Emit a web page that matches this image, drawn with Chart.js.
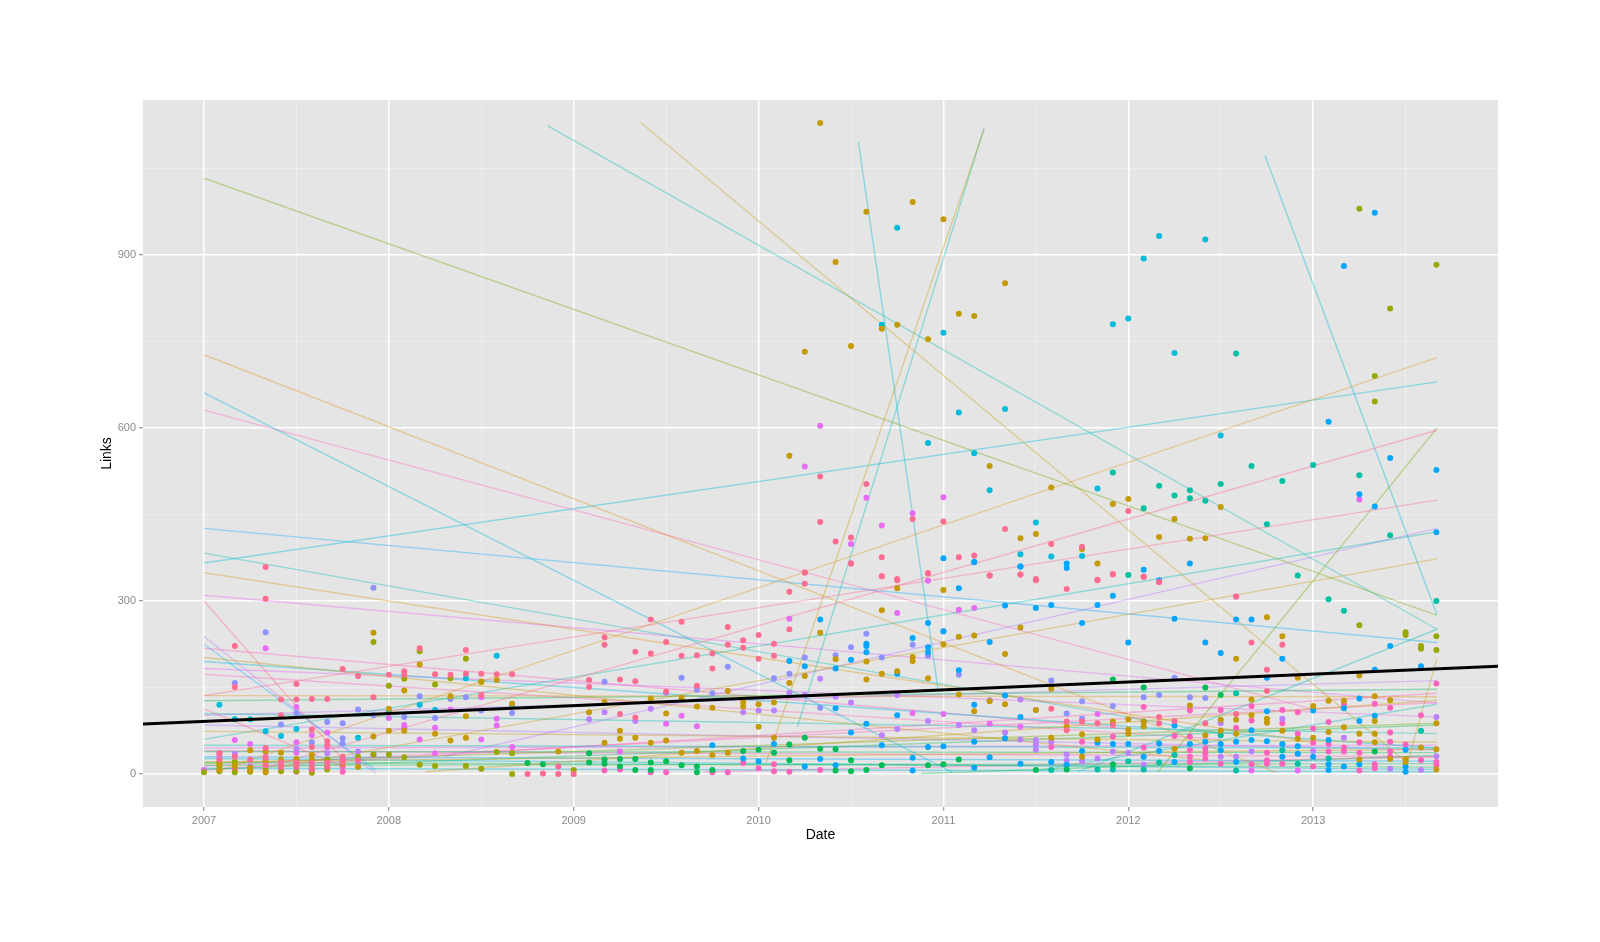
<!DOCTYPE html>
<html>
<head>
<meta charset="utf-8">
<title>Links by date</title>
<script src="https://cdn.jsdelivr.net/npm/chart.js@4/dist/chart.umd.min.js"></script>
<style>
  body { margin: 0; background: #fff; }
  canvas { display: block; }
</style>
</head>
<body>
<canvas id="links" width="1600" height="942"></canvas>
<script>
// tick values, minor ones have no label
var xTicks = [2007, 2007.5, 2008, 2008.5, 2009, 2009.5, 2010, 2010.5, 2011, 2011.5, 2012, 2012.5, 2013, 2013.5];
var xLabels = [2007, 2008, 2009, 2010, 2011, 2012, 2013];
var yTicks = [0, 150, 300, 450, 600, 750, 900, 1050];
var yLabels = [0, 300, 600, 900];

// points are [months since Jan 2007, links]
var redPoints = [[4,359],[4,304],[2,222],[2,151],[6,156],[5,102],[9,182],[10,170],[12,172],[13,178],[13,172],[14,218],[15,173],[16,172],[17,215],[17,174],[18,174],[19,173],[20,173],[11,133],[18,137],[7,130],[8,130],[6,129],[5,129],[4,45],[7,47],[7,77],[8,57],[8,50],[21,0],[22,1],[23,0],[23,13],[24,0],
  [1,36],[1,25],[2,30],[3,25],[4,28],[4,15],[5,20],[5,12],[6,20],[6,12],[7,20],[7,8],[8,20],[8,12],[9,30],[9,20],[10,24],
  [26,237],[26,224],[25,163],[25,151],[27,164],[28,212],[29,268],[29,209],[28,161],[30,229],[31,264],[31,205],[32,206],[33,209],[33,183],[34,255],[34,224],[35,232],[35,219],[36,241],[36,200],[37,226],[37,205],[39,349],[39,330],[38,316],[38,251],[42,365],[44,343],[45,336],[47,348],[51,344],[53,346],[30,143],[32,153],[27,104],[28,98],
  [54,336],[58,336],[59,347],[61,342],[56,321],[62,333],[67,308],[68,228],[70,224],[69,181],[69,144],[55,113],[40,516],[43,503],[40,437],[41,403],[42,410],[46,442],[48,438],[52,425],[55,399],[57,394],[42,365],[44,376],[49,376],[50,379],[39,350],[44,343],[45,338],[47,348],[51,344],[53,346],[54,338],[60,456],[58,337],[59,346],[61,342],[62,333],
  [56,91],[56,76],[57,91],[58,88],[59,85],[62,99],[62,88],[63,92],[65,88],[67,104]];
var amberPoints = [[11,245],[14,190],[12,113],[13,145],[16,135],[17,100],[18,160],[19,163],[20,122],[11,65],[12,75],[13,75],[15,70],[16,58],[17,63],[23,39],[3,41],[4,39],[5,37],[6,26],[7,33],[1,7],[3,6],[4,3],
  [1,18],[2,14],[3,11],[4,22],[5,25],[6,19],[7,25],[7,8],[8,12],[9,18],[10,12],
  [48,319],[45,322],[44,284],[49,238],[50,240],[53,254],[52,208],[46,203],[46,196],[43,164],[44,174],[45,178],[39,170],[38,158],[35,125],[35,117],[36,121],[37,124],[32,117],[33,115],[36,82],[37,63],[30,105],[27,75],[27,61],[28,63],[29,54],[30,58],[26,54],[26,125],[31,37],[32,40],[33,33],[34,37],[25,107],[50,109],[51,126],[52,121],[47,166],[41,199],[43,195],[48,225],[40,245],[34,144],[31,132],[29,131],[49,138],
  [40,1129],[43,975],[46,992],[48,962],[41,888],[52,851],[49,798],[50,794],[44,772],[45,779],[47,754],[39,732],[42,742],[38,552],[51,534],[55,497],[53,409],[54,416],[58,365],[57,390],[60,477],[59,468],[63,442],[66,463],[62,411],[64,408],[65,409],[67,200],[69,272],[70,239],[75,171],[55,148],[71,167],[80,88],
  [54,111],[55,63],[56,82],[57,69],[57,30],[58,60],[59,91],[60,77],[60,70],[60,95],[61,91],[61,83],[63,44],[64,119],[65,67],[66,94],[66,75],[67,94],[67,70],[68,129],[68,102],[69,96],[69,89],[70,75],[71,61],[72,118],[72,63],[73,127],[73,73],[74,127],[74,81],[75,70],[75,25],[76,135],[76,92],[76,70],[76,55],[77,128],[77,26],[78,26],[78,21],[79,46],[80,43],[80,8]];
var olivePoints = [[11,229],[17,200],[18,160],[12,153],[13,165],[15,155],[16,166],[14,213],[20,36],[19,38],[18,9],[17,14],[15,14],[14,16],[13,29],[12,34],[11,34],[20,0],[24,7],[0,3],[1,13],[1,21],[2,21],[2,3],[4,7],[7,2],[8,25],[8,8],[10,30],[1,5],[3,4],[5,5],[6,5],[7,8],
  [75,980],[77,807],[80,883],[76,690],[76,646],[75,258],[78,246],[78,241],[79,222],[79,217],[80,239],[80,215]];
var greenPoints = [[21,19],[22,17],[25,36],[25,20],[26,25],[26,18],[27,26],[27,13],[28,26],[28,7],[29,20],[29,7],[30,22],[31,15],[32,13],[32,3],[33,7],[35,40],[36,42],[37,37],[38,24],[39,63],[40,44],[41,43],[41,6],[42,24],[42,5],[43,7],[44,15],[47,15],[48,17],[49,25],[38,51],[59,164],[61,150],[65,150],[66,137],[54,7],[56,8],[59,17],[64,10],[76,39]];
var tealPoints = [[60,345],[71,344],[73,303],[74,283],[80,300],[67,729],[59,523],[62,500],[64,492],[63,483],[64,478],[65,474],[66,503],[61,461],[68,534],[70,508],[72,536],[75,518],[69,433],[77,414],[67,140],[55,7],[58,8],[59,8],[60,22],[61,8],[62,20],[63,33],[66,67],[67,6],[70,41],[71,18],[73,27],[79,75]];
var cyanPoints = [[1,120],[2,95],[3,95],[4,74],[5,66],[6,78],[10,63],[12,108],[14,120],[15,111],[17,166],[19,205],[20,117],[45,947],[44,779],[48,765],[49,627],[52,633],[47,574],[50,556],[51,492],[54,436],[53,381],[55,377],[57,378],[58,495],[59,780],[60,790],[61,894],[62,933],[63,730],[65,927],[66,587]];
var bluePoints = [[40,268],[47,262],[46,236],[47,220],[47,211],[43,226],[43,222],[43,211],[42,198],[41,183],[39,187],[38,196],[45,174],[48,247],[49,180],[50,367],[49,322],[51,229],[52,292],[53,360],[41,114],[45,102],[43,87],[42,72],[44,50],[47,47],[48,48],[50,120],[52,136],[50,56],[52,62],[53,99],[33,50],[35,27],[36,22],[37,52],[40,26],[41,15],[39,13],[46,28],[46,6],[50,11],[51,29],[53,18],[48,374],[50,368],[53,360],[56,365],[56,357],[61,354],[64,365],[62,336],[54,288],[55,293],[58,293],[59,309],[57,262],[60,228],[63,269],[67,268],[68,268],[65,228],[66,210],[70,200],[77,222],[79,187],[76,181],[69,167],[74,881],[76,973],[73,611],[77,548],[80,527],[75,485],[76,464],[80,419],
  [55,21],[56,16],[57,40],[58,54],[59,52],[60,52],[61,91],[61,30],[62,53],[62,40],[63,84],[63,21],[64,52],[65,56],[66,52],[66,41],[67,56],[67,21],[68,76],[68,59],[69,109],[69,57],[70,52],[70,30],[71,48],[71,35],[72,110],[72,30],[73,59],[73,17],[73,7],[74,114],[74,13],[75,131],[75,92],[75,17],[76,101],[78,42],[78,13],[78,4]];
var periwinklePoints = [[4,246],[11,323],[2,158],[6,106],[5,86],[7,55],[8,90],[9,88],[9,62],[9,53],[10,112],[11,102],[13,99],[14,135],[15,97],[16,130],[17,133],[18,110],[20,106],[43,243],[42,220],[41,206],[44,202],[46,224],[47,205],[48,248],[49,172],[34,186],[31,167],[37,166],[38,174],[39,202],[26,160],[32,146],[33,140],[30,141],[40,115],[55,162],[63,167],[61,133],[62,137],[64,133],[65,132],[57,126],[59,118],[54,111],[56,105],[57,96]];
var purplePoints = [[1,36],[1,30],[2,35],[3,13],[5,16],[6,44],[6,16],[8,36],[10,39],[10,21],[40,165],[36,110],[37,110],[35,107],[28,92],[25,95],[26,107],[29,113],[38,141],[39,137],[41,134],[42,124],[45,137],[47,92],[45,78],[44,67],[49,85],[50,76],[52,72],[53,60],[51,128],[53,129],[54,59],[54,51],[54,42],[55,56],[56,34],[56,24],[57,22],[58,27],[59,39],[60,37],[61,16],[66,88],[66,30],[67,30],[68,39],[70,96],[72,40],[74,63],[77,9],[79,7],[80,99],[80,31]];
var magentaPoints = [[0,7],[2,59],[4,218],[6,116],[3,52],[6,55],[7,67],[8,72],[8,47],[11,33],[15,36],[12,97],[13,85],[13,80],[14,60],[15,80],[16,112],[18,133],[18,60],[19,84],[19,96],[20,47],[4,30],[5,7],[6,37],
  [38,269],[45,279],[49,285],[50,288],[30,87],[32,83],[31,101],[27,39],[46,106],[48,104],[51,87],[53,82],[47,335],[40,604],[39,533],[43,479],[48,480],[46,452],[44,431],[42,399],[75,476],[67,308],[58,104],[68,6],[71,6]];
var pinkPoints = [[2,8],[6,4],[7,13],[9,24],[9,13],[9,4],[26,6],[27,8],[30,3],[33,3],[34,3],[37,5],[38,4],[40,7],[35,19],[36,10],[37,17],[29,3],[55,47],[57,56],[59,65],[61,46],[61,116],[63,66],[64,110],[64,65],[64,41],[64,30],[64,21],[65,44],[65,36],[65,27],[66,111],[66,18],[67,80],[68,118],[68,93],[68,17],[69,37],[69,24],[69,18],[70,111],[70,88],[70,18],[71,107],[71,70],[72,79],[72,54],[72,13],[73,90],[73,52],[73,39],[74,121],[74,46],[74,39],[75,55],[75,37],[75,6],[76,122],[76,17],[76,10],[77,115],[77,72],[77,56],[77,39],[77,30],[78,51],[79,102],[79,24],[80,157],[80,21],[80,15]];

// fitted lines are [from year, from links, to year, to links]
var redLines = [[2007,300,2007.76,22],[2007,113,2007.75,13],[2007.3,8,2013.67,596],[2007,136,2013.67,475]];
var orangeLines = [[2007,727,2012.8,3],[2007,349,2013,55],[2007.1,8,2013.67,722],[2007,136,2013.67,134]];
var goldLines = [[2007,202,2012.4,25],[2007,21,2013.67,43],[2007.4,12,2013.67,373],[2009.36,1130,2013.51,19],[2010.04,19,2011.22,1118],[2013.5,8,2013.67,200],[2007,74,2013.67,55],[2008.2,4,2013.67,128]];
var oliveLines = [[2007,1033,2013.67,275],[2012.16,3,2013.67,600],[2007,18,2013.67,88]];
var greenLines = [[2007,127,2013.67,147],[2007,39,2013.67,37],[2007,15,2013.67,18],[2007,20,2013.67,12],[2010.88,1,2013.67,32],[2007,8,2013.67,85]];
var tealLines = [[2008.86,1124,2013.67,251],[2007,383,2012.5,70],[2007,60,2013.67,420],[2011.73,4,2013.67,251],[2011.5,5,2013.67,121],[2007,105,2013.67,70],[2007,50,2013.67,45],[2010.21,82,2011.22,1120]];
var cyanLines = [[2007,366,2013.67,680],[2007,661,2011.05,3],[2010.54,1096,2010.97,149],[2012.74,1072,2013.67,276],[2007,195,2013.67,45],[2007,27,2013.67,8],[2007,10,2013.67,4]];
var blueLines = [[2007,426,2013.67,228],[2007,225,2007.93,7],[2007,30,2013.67,22]];
var purpleLines = [[2008.3,30,2013.67,426],[2007,102,2013.67,162],[2007,239,2007.93,1],[2007,85,2013.67,42]];
var magentaLines = [[2007,310,2013.67,123],[2007,183,2013.67,99],[2007,45,2013.67,50]];
var pinkLines = [[2007,631,2013,112],[2007,218,2012,78],[2007,173,2012.5,60],[2007,7,2013.67,140],[2007,40,2013.67,30],[2007,14,2013.67,124],[2009.7,4,2013.67,30]];
var trendLine = [[2006.67,86.7],[2014,187]];

var pointGroups = [
  [redPoints, '#FF6C91'], [amberPoints, '#C49A00'], [olivePoints, '#99A800'], [greenPoints, '#00BC56'],
  [tealPoints, '#00C0A3'], [cyanPoints, '#00BBDA'], [bluePoints, '#00A6FF'], [periwinklePoints, '#8E92FF'],
  [purplePoints, '#BC81FF'], [magentaPoints, '#E76BF3'], [pinkPoints, '#FF62BC']
];
var lineGroups = [
  [redLines, 'rgba(255,108,145,0.4)'], [orangeLines, 'rgba(222,140,0,0.33)'], [goldLines, 'rgba(196,154,0,0.36)'],
  [oliveLines, 'rgba(110,170,0,0.36)'], [greenLines, 'rgba(0,188,86,0.36)'], [tealLines, 'rgba(0,192,178,0.38)'],
  [cyanLines, 'rgba(0,187,218,0.4)'], [blueLines, 'rgba(0,166,255,0.36)'], [purpleLines, 'rgba(188,129,255,0.42)'],
  [magentaLines, 'rgba(231,107,243,0.4)'], [pinkLines, 'rgba(255,98,188,0.38)']
];

var datasets = [];

// fitted lines go underneath
lineGroups.forEach(function (group) {
  group[0].forEach(function (seg) {
    datasets.push({
      data: [{ x: seg[0], y: seg[1] }, { x: seg[2], y: seg[3] }],
      showLine: true, borderColor: group[1], borderWidth: 1.4, pointRadius: 0, order: 3
    });
  });
});

pointGroups.forEach(function (group) {
  datasets.push({
    data: group[0].map(function (p) { return { x: 2007 + p[0] / 12, y: p[1] }; }),
    backgroundColor: group[1], borderWidth: 0, pointRadius: 3, order: 2
  });
});

// overall trend on top
datasets.push({
  data: trendLine.map(function (p) { return { x: p[0], y: p[1] }; }),
  showLine: true, borderColor: '#000', borderWidth: 3, pointRadius: 0, order: 1
});

var panel = {
  id: 'panel',
  beforeDraw: function (chart) {
    var a = chart.chartArea;
    chart.ctx.fillStyle = '#E5E5E5';
    chart.ctx.fillRect(a.left, a.top, a.width, a.height);
  }
};

function axis(min, max, values, labels, size, title, titlePad) {
  return {
    type: 'linear', min: min, max: max,
    afterBuildTicks: function (scale) {
      scale.ticks = values.map(function (v) { return { value: v }; });
    },
    afterFit: function (scale) {
      if (scale.isHorizontal()) scale.height = size; else scale.width = size;
    },
    border: { display: false },
    grid: {
      color: function (c) { return labels.indexOf(c.tick.value) >= 0 ? '#fff' : 'rgba(255,255,255,0.3)'; },
      lineWidth: function (c) { return labels.indexOf(c.tick.value) >= 0 ? 1.5 : 1; },
      tickColor: '#7F7F7F',
      tickWidth: function (c) { return labels.indexOf(c.tick.value) >= 0 ? 1 : 0; },
      tickLength: 4
    },
    ticks: {
      autoSkip: false, maxRotation: 0, padding: 3, color: '#8A8A8A',
      font: { family: 'Liberation Sans', size: 11 },
      callback: function (v) { return labels.indexOf(v) >= 0 ? String(v) : ''; }
    },
    title: {
      display: true, text: title, color: '#000',
      font: { family: 'Liberation Sans', size: 14 }, padding: titlePad
    }
  };
}

new Chart(document.getElementById('links'), {
  type: 'scatter',
  data: { datasets: datasets },
  options: {
    responsive: false,
    animation: false,
    layout: { padding: { left: 96, right: 102, top: 100, bottom: 96 } },
    plugins: { legend: { display: false }, tooltip: { enabled: false } },
    scales: {
      x: axis(2006.67, 2014, xTicks, xLabels, 39, 'Date', { top: 0, bottom: 2 }),
      y: axis(-57.2, 1168.7, yTicks, yLabels, 47, 'Links', { top: 3, bottom: 2 })
    }
  },
  plugins: [panel]
});
</script>
</body>
</html>
